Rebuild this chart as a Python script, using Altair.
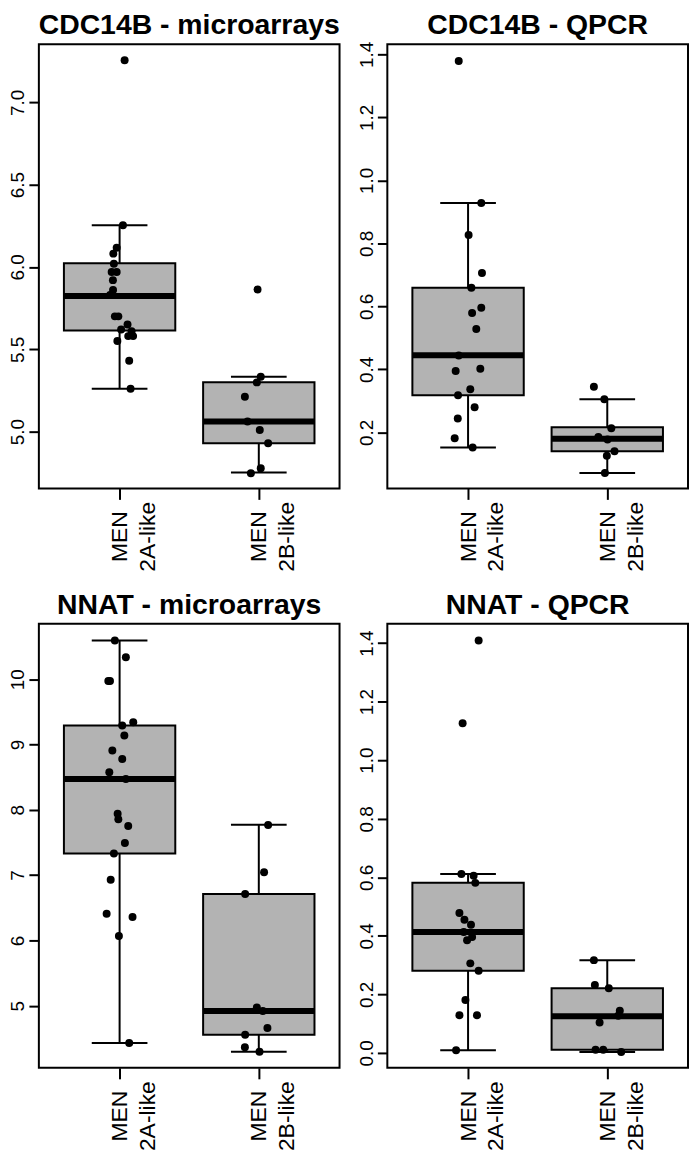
import altair as alt
import pandas as pd

FONT = "Liberation Sans"
GROUP_POS = [1, 2]
GROUP_LINES = ["['MEN', '2A-like']", "['MEN', '2B-like']"]

# ---------- CDC14B - microarrays ----------
cdc_ma_a = [7.256, 6.253, 6.117, 6.081, 6.02, 5.97, 5.97, 5.92, 5.86, 5.83,
            5.70, 5.70, 5.65, 5.62, 5.61, 5.58, 5.58, 5.55, 5.43, 5.26]
cdc_ma_a_jit = [0.036, 0.024, -0.021, -0.045, -0.041, -0.057, -0.021, -0.048, -0.047, -0.068,
                -0.034, -0.009, 0.057, 0.011, 0.086, 0.062, 0.097, -0.016, 0.069, 0.079]
cdc_ma_b = [5.863, 5.333, 5.299, 5.212, 5.061, 5.010, 4.929, 4.778, 4.747]
cdc_ma_b_jit = [-0.009, 0.014, -0.014, -0.100, -0.081, 0.007, 0.067, 0.014, -0.057]
cdc_ma_lo = [5.26, 4.752]
cdc_ma_q1 = [5.614, 4.929]
cdc_ma_med = [5.823, 5.061]
cdc_ma_q3 = [6.022, 5.300]
cdc_ma_hi = [6.253, 5.333]
cdc_ma_ticks = [5.0, 5.5, 6.0, 6.5, 7.0]
cdc_ma_domain = [4.655, 7.352]

# ---------- CDC14B - QPCR ----------
cdc_q_a = [1.379, 0.928, 0.827, 0.706, 0.659, 0.596, 0.579, 0.528, 0.444,
           0.402, 0.395, 0.337, 0.318, 0.280, 0.244, 0.181, 0.152]
cdc_q_a_jit = [-0.067, 0.095, 0.004, 0.100, 0.024, 0.095, 0.029, 0.059, -0.067,
               0.088, -0.089, 0.016, -0.072, 0.047, -0.074, -0.096, 0.033]
cdc_q_b = [0.345, 0.305, 0.213, 0.185, 0.177, 0.140, 0.126, 0.071]
cdc_q_b_jit = [-0.096, -0.021, 0.029, -0.064, 0.002, 0.052, -0.003, -0.017]
cdc_q_lo = [0.152, 0.071]
cdc_q_q1 = [0.318, 0.140]
cdc_q_med = [0.445, 0.180]
cdc_q_q3 = [0.659, 0.216]
cdc_q_hi = [0.928, 0.305]
cdc_q_ticks = [0.2, 0.4, 0.6, 0.8, 1.0, 1.2, 1.4]
cdc_q_domain = [0.022, 1.432]

# ---------- NNAT - microarrays ----------
nnat_ma_a = [10.594, 10.335, 9.974, 9.974, 9.341, 9.29, 9.137, 8.909, 8.778, 8.574, 8.473,
             7.94, 7.854, 7.752, 7.493, 7.332, 6.93, 6.408, 6.358, 6.068, 4.429]
nnat_ma_a_jit = [-0.034, 0.045, -0.081, -0.069, 0.098, 0.019, 0.034, -0.052, 0.019, -0.074, 0.045,
                 -0.014, -0.009, 0.062, 0.038, -0.041, -0.064, -0.093, 0.093, -0.005, 0.069]
nnat_ma_b = [7.767, 7.043, 6.712, 4.973, 4.921, 4.658, 4.556, 4.364, 4.297]
nnat_ma_b_jit = [0.067, 0.038, -0.098, -0.014, 0.029, 0.062, -0.098, -0.100, 0.005]
nnat_ma_lo = [4.429, 4.297]
nnat_ma_q1 = [7.332, 4.556]
nnat_ma_med = [8.473, 4.921]
nnat_ma_q3 = [9.29, 6.712]
nnat_ma_hi = [10.594, 7.77]
nnat_ma_ticks = [5, 6, 7, 8, 9, 10]
nnat_ma_domain = [4.049, 10.848]

# ---------- NNAT - QPCR ----------
nnat_q_a = [1.409, 1.126, 0.611, 0.605, 0.581, 0.478, 0.455, 0.438, 0.413,
            0.396, 0.385, 0.306, 0.281, 0.181, 0.129, 0.129, 0.009]
nnat_q_a_jit = [0.076, -0.039, -0.048, 0.040, 0.052, -0.062, -0.026, 0.021, -0.031,
                0.029, -0.007, 0.016, 0.076, -0.019, -0.062, 0.064, -0.086]
nnat_q_b = [0.317, 0.232, 0.221, 0.144, 0.127, 0.104, 0.011, 0.011, 0.003]
nnat_q_b_jit = [-0.096, -0.089, 0.011, 0.090, 0.079, -0.055, -0.084, -0.029, 0.100]
nnat_q_lo = [0.009, 0.003]
nnat_q_q1 = [0.281, 0.011]
nnat_q_med = [0.413, 0.125]
nnat_q_q3 = [0.581, 0.221]
nnat_q_hi = [0.611, 0.317]
nnat_q_ticks = [0.0, 0.2, 0.4, 0.6, 0.8, 1.0, 1.2, 1.4]
nnat_q_domain = [-0.051, 1.466]

PANEL_W = 302
PANEL_H = 446
BOX_FILL = "#B3B3B3"


def panel(title, a_vals, a_jit, b_vals, b_jit, lo, q1, med, q3, hi, ydomain, yticks, yfmt):
    pts = pd.DataFrame({
        "pos": [GROUP_POS[0]] * len(a_vals) + [GROUP_POS[1]] * len(b_vals),
        "jit": a_jit + b_jit,
        "value": a_vals + b_vals,
    })
    box = pd.DataFrame({"pos": GROUP_POS, "lo": lo, "q1": q1, "med": med, "q3": q3, "hi": hi})

    xs = alt.Scale(domain=[0.42, 2.58], nice=False, zero=False)
    ys = alt.Scale(domain=ydomain, nice=False, zero=False)
    xaxis = alt.Axis(
        values=GROUP_POS,
        labelExpr="datum.value == 1 ? " + GROUP_LINES[0] + " : " + GROUP_LINES[1],
        labelAngle=270, labelAlign="center", labelBaseline="middle",
        labelFontSize=23, labelLineHeight=28, labelPadding=37, tickSize=11,
        labelOverlap=False, labelFlush=False, domain=False, grid=False,
    )
    yaxis = alt.Axis(
        values=yticks, format=yfmt,
        labelAngle=270, labelAlign="center", labelBaseline="alphabetic",
        labelFontSize=19, labelPadding=5, tickSize=10,
        labelOverlap=False, labelFlush=False, domain=False, grid=False,
    )

    def X(f):
        return alt.X(f, type="quantitative", scale=xs, axis=xaxis, title=None)

    def Y(f):
        return alt.Y(f, type="quantitative", scale=ys, axis=yaxis, title=None)

    base = alt.Chart(box).transform_calculate(
        left="datum.pos - 0.4", right="datum.pos + 0.4",
        capl="datum.pos - 0.2", capr="datum.pos + 0.2",
    )
    whisk_lo = base.mark_rule(color="black", strokeWidth=2).encode(x=X("pos"), y=Y("lo"), y2="q1")
    whisk_hi = base.mark_rule(color="black", strokeWidth=2).encode(x=X("pos"), y=Y("q3"), y2="hi")
    cap_lo = base.mark_rule(color="black", strokeWidth=2).encode(x=X("capl"), x2="capr", y=Y("lo"))
    cap_hi = base.mark_rule(color="black", strokeWidth=2).encode(x=X("capl"), x2="capr", y=Y("hi"))
    boxes = base.mark_rect(fill=BOX_FILL, stroke="black", strokeWidth=2).encode(
        x=X("left"), x2="right", y=Y("q1"), y2="q3")
    median = base.mark_rule(color="black", strokeWidth=6).encode(x=X("left"), x2="right", y=Y("med"))
    points = alt.Chart(pts).transform_calculate(px="datum.pos + datum.jit").mark_circle(
        color="black", opacity=1, size=64).encode(x=X("px"), y=Y("value"))
    title_txt = alt.Chart(pd.DataFrame({"title": [title]})).mark_text(
        font=FONT, fontSize=28.5, fontWeight="bold", color="black",
        align="center", baseline="alphabetic",
    ).encode(text="title:N", x=alt.value(PANEL_W / 2), y=alt.value(-10))

    return alt.layer(whisk_lo, whisk_hi, cap_lo, cap_hi, boxes, median, points, title_txt).properties(
        width=PANEL_W, height=PANEL_H,
    )


p1 = panel("CDC14B - microarrays", cdc_ma_a, cdc_ma_a_jit, cdc_ma_b, cdc_ma_b_jit,
           cdc_ma_lo, cdc_ma_q1, cdc_ma_med, cdc_ma_q3, cdc_ma_hi, cdc_ma_domain, cdc_ma_ticks, ".1f")
p2 = panel("CDC14B - QPCR", cdc_q_a, cdc_q_a_jit, cdc_q_b, cdc_q_b_jit,
           cdc_q_lo, cdc_q_q1, cdc_q_med, cdc_q_q3, cdc_q_hi, cdc_q_domain, cdc_q_ticks, ".1f")
p3 = panel("NNAT - microarrays", nnat_ma_a, nnat_ma_a_jit, nnat_ma_b, nnat_ma_b_jit,
           nnat_ma_lo, nnat_ma_q1, nnat_ma_med, nnat_ma_q3, nnat_ma_hi, nnat_ma_domain, nnat_ma_ticks, "d")
p4 = panel("NNAT - QPCR", nnat_q_a, nnat_q_a_jit, nnat_q_b, nnat_q_b_jit,
           nnat_q_lo, nnat_q_q1, nnat_q_med, nnat_q_q3, nnat_q_hi, nnat_q_domain, nnat_q_ticks, ".1f")

chart = alt.concat(
    p1, p2, p3, p4, columns=2,
    spacing=alt.RowColnumber(row=136, column=48), bounds="flush",
).properties(
    padding={"top": 0, "left": -1, "right": 0, "bottom": 0}, background="white"
).configure_view(
    stroke="black", strokeWidth=2
).configure_axis(
    labelFont=FONT, labelColor="black", tickColor="black", tickWidth=2,
)

chart.save("out.html", embed_options={"renderer": "svg", "actions": False})
